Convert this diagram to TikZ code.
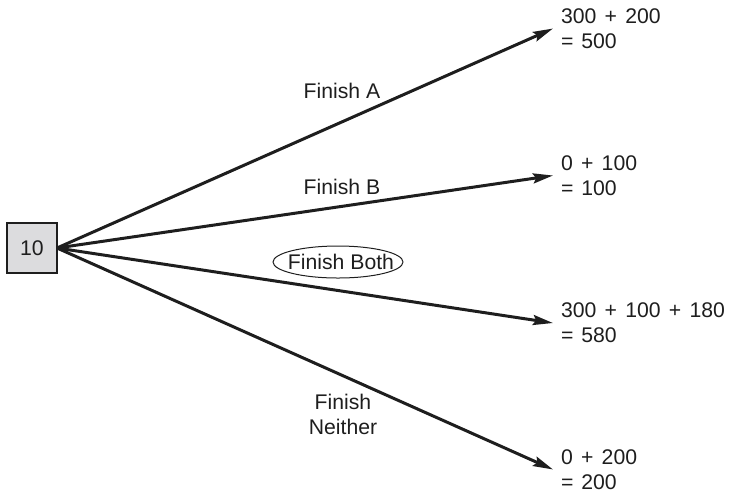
\documentclass[tikz,border=0pt]{standalone}
\usepackage{fontspec}
\setmainfont{Liberation Sans}
\usetikzlibrary{arrows.meta,shapes.geometric}
\definecolor{boxgray}{RGB}{220,220,222}
\definecolor{ink}{RGB}{30,30,30}
\newcommand\pl{\kern1.2pt+\kern1.2pt}
\newcommand\eq{=\kern1pt}
\tikzset{
  startbox/.style={draw=ink,line width=0.6pt,fill=boxgray,minimum size=25pt,inner sep=0pt,outer sep=0pt,text=ink},
  outcome/.style={anchor=west,align=left,inner xsep=4pt,inner ysep=0pt,outer sep=0pt,text=ink},
  branch/.style={draw=ink,line width=1.5pt,-{Stealth[length=10pt,width=5pt,inset=1.5pt]}},
  blabel/.style={text=ink,align=center,inner sep=0pt},
  ovalline/.style={draw=ink,line width=0.5pt}
}
\begin{document}
\begin{tikzpicture}[x=0.5pt,y=-0.5pt,font=\fontsize{10.6pt}{12.5pt}\selectfont]
\useasboundingbox (0,0) rectangle (730,495);
\node[startbox] (s) at (32,248) {10};
\node[outcome] (oa) at (553,28.5) {300 \pl{} 200\\\eq{} 500};
\node[outcome] (ob) at (553,175.5) {0 \pl{} 100\\\eq{} 100};
\node[outcome] (oc) at (553,323) {300 \pl{} 100 \pl{} 180\\\eq{} 580};
\node[outcome] (od) at (553,469.5) {0 \pl{} 200\\\eq{} 200};
\draw[branch] (s.east) -- (oa.west);
\draw[branch] (s.east) -- (ob.west);
\draw[branch] (s.east) -- (oc.west);
\draw[branch] (s.east) -- (od.west);
\node[blabel] (la) at (342,91) {Finish A};
\node[blabel] (lb) at (342,187) {Finish B};
\node[blabel] (lc) at (341,262) {Finish Both};
\coordinate (oc0) at (338,262);
\draw[ovalline] (oc0) ellipse [x radius=32.5pt, y radius=8pt];
\node[blabel] (ld) at (343,414.5) {Finish\\Neither};
\end{tikzpicture}
\end{document}
